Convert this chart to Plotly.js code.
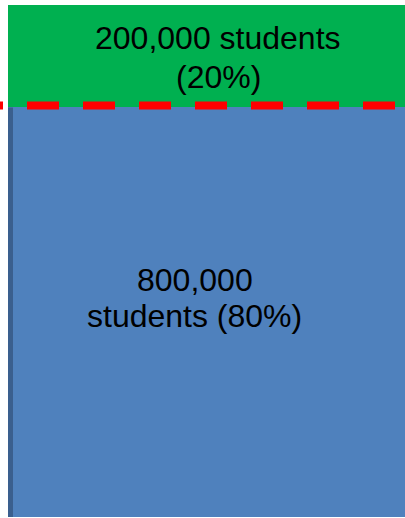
<!DOCTYPE html>
<html>
<head>
<meta charset="utf-8">
<script src="https://cdn.plot.ly/plotly-3.0.1.min.js"></script>
<style>
  html, body { margin: 0; padding: 0; background: #ffffff; }
  #chart { width: 405px; height: 518px; }
</style>
</head>
<body>
<div id="chart"></div>
<script>
// ---- data ----
const category = ['Students'];
const segmentNames = ['Other students', 'Group students'];
const counts = [800000, 200000];
const shares = [80, 20];
const labelLines = [
  ['800,000', 'students (80%)'],
  ['200,000 students', '(20%)']
];

// ---- styles ----
const barColors = ['#4f81bd', '#00b050'];
const fontFamily = 'Liberation Sans, Arial, sans-serif';
const total = counts.reduce((a, b) => a + b, 0);

const traces = counts.map((v, i) => ({
  type: 'bar',
  name: segmentNames[i],
  x: category,
  y: [v],
  width: 1,
  marker: { color: barColors[i], line: { width: 0 } },
  hoverinfo: 'none'
}));

// annotation placement offsets (pixels)
const lineShifts = [[32, -4], [18, -21]];
const xShifts = [-12, 11.5];
const annotations = [];
let base = 0;
counts.forEach((v, i) => {
  const mid = base + v / 2;
  labelLines[i].forEach((txt, j) => {
    annotations.push({
      x: category[0], y: mid, xref: 'x', yref: 'y',
      text: txt, showarrow: false,
      xanchor: 'center', yanchor: 'middle',
      xshift: xShifts[i], yshift: lineShifts[i][j],
      font: { family: fontFamily, size: 32, color: '#000000' }
    });
  });
  base += v;
});

const shapes = [
  {
    type: 'rect', xref: 'paper', yref: 'y',
    x0: 0, x1: 5 / 397, y0: 0, y1: counts[0],
    fillcolor: '#3a5f8e', line: { width: 0 }, layer: 'above'
  },
  {
    type: 'line', xref: 'paper', yref: 'y',
    x0: -37 / 397, x1: 1,
    ysizemode: 'pixel', yanchor: counts[0], y0: 2, y1: 2,
    line: { color: '#ff0000', width: 8, dash: '32px,24px' },
    layer: 'above'
  }
];

const layout = {
  width: 405, height: 518,
  margin: { l: 8, r: 0, t: 5, b: 1, pad: 0 },
  paper_bgcolor: '#ffffff', plot_bgcolor: '#ffffff',
  barmode: 'stack', bargap: 0,
  showlegend: false,
  xaxis: { visible: false, range: [-0.5, 0.5], fixedrange: true },
  yaxis: { visible: false, range: [0, total], fixedrange: true },
  annotations: annotations,
  shapes: shapes
};

Plotly.newPlot('chart', traces, layout, { displayModeBar: false, staticPlot: true });
</script>
</body>
</html>
